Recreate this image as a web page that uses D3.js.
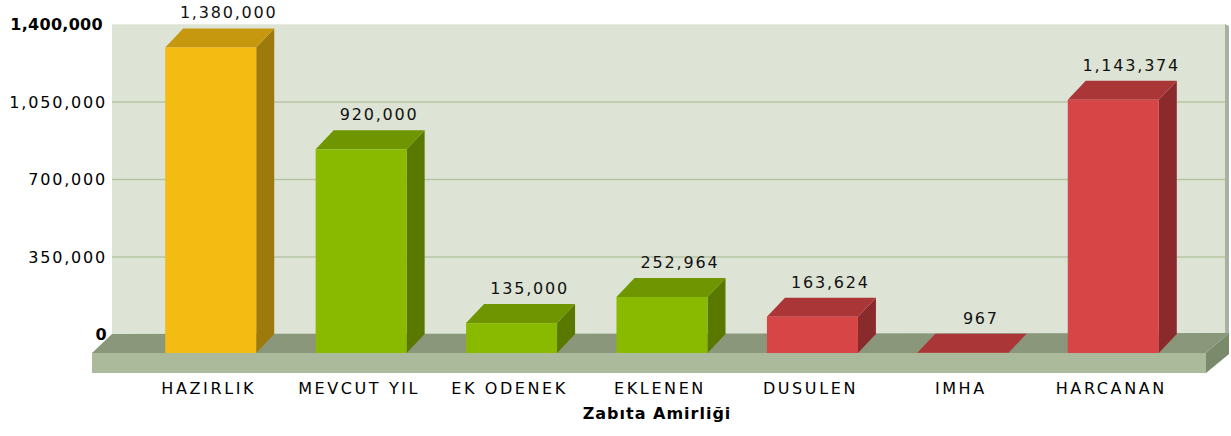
<!DOCTYPE html>
<html>
<head>
<meta charset="utf-8">
<script src="https://cdn.jsdelivr.net/npm/d3@7"></script>
<style>
  body { margin: 0; background: #fff; }
  svg { display: block; }
  text { font-family: "DejaVu Sans", Verdana, sans-serif; }
</style>
</head>
<body>
<svg id="chart" width="1231" height="436"></svg>
<script>
const categories = ['HAZIRLIK', 'MEVCUT YIL', 'EK ODENEK', 'EKLENEN', 'DUSULEN', 'IMHA', 'HARCANAN'];
const values = [1380000, 920000, 135000, 252964, 163624, 967, 1143374];
const barGroup = ['yellow', 'green', 'green', 'green', 'red', 'red', 'red'];
const yTicks = [0, 350000, 700000, 1050000, 1400000];
const xTitle = 'Zabıta Amirliği';

const palette = {
  yellow: {front: '#f4bb12', top: '#c69810', side: '#9d7a0b'},
  green: {front: '#8aba00', top: '#6f9500', side: '#587800'},
  red: {front: '#d84547', top: '#ab3638', side: '#8a2a2c'}
};

const svg = d3.select('#chart');
const wall = {x0: 112, x1: 1225};
const depth = {dx: 18, dy: 19};     // bar depth offset
const floorDepth = {dx: 20, dy: 19};

const y = d3.scaleLinear().domain([0, 1400000]).range([334, 24]);
const x = d3.scaleBand().domain(categories)
  .range([90, 1234]).paddingInner(0.395).paddingOuter(0.5);

const fmt = d3.format(',');
const isEnd = d => d === 0 || d === 1400000;

// back wall
svg.append('rect')
  .attr('x', wall.x0).attr('y', y(1400000))
  .attr('width', wall.x1 - wall.x0).attr('height', y(0) - y(1400000))
  .attr('fill', '#dde3d5');
// thin right side of the wall
svg.append('polygon')
  .attr('points', [[wall.x1, y(1400000)], [wall.x1 + 4, y(1400000) + 2], [wall.x1 + 4, y(0)], [wall.x1, y(0)]].join(' '))
  .attr('fill', '#a9b19f');

// gridlines
svg.append('g').selectAll('line')
  .data(yTicks.filter(d => !isEnd(d)))
  .join('line')
  .attr('x1', wall.x0).attr('x2', wall.x1)
  .attr('y1', d => y(d) + 0.5).attr('y2', d => y(d) + 0.5)
  .attr('stroke', '#b6c6a4').attr('stroke-width', 1.5);
svg.append('line')
  .attr('x1', wall.x0).attr('x2', wall.x1)
  .attr('y1', y(1400000) + 0.5).attr('y2', y(1400000) + 0.5)
  .attr('stroke', '#e6eadf');

// floor
const fx0 = wall.x0 - floorDepth.dx, fx1 = wall.x1 - 19, fy = y(0) + floorDepth.dy;
svg.append('polygon') // top
  .attr('points', [[fx0, fy], [fx1, fy], [fx1 + 23, y(0) - 1], [wall.x0, y(0)]].join(' '))
  .attr('fill', '#8a977a');
svg.append('rect') // front
  .attr('x', fx0).attr('y', fy).attr('width', fx1 - fx0).attr('height', 20)
  .attr('fill', '#acba9c');
svg.append('polygon') // right side
  .attr('points', [[fx1, fy], [fx1 + 23, y(0) - 1], [fx1 + 23, y(0) + 20], [fx1, fy + 20]].join(' '))
  .attr('fill', '#7b8a6b');

// y axis labels
svg.append('g').selectAll('text')
  .data(yTicks)
  .join('text')
  .attr('x', d => d === 1400000 ? 103 : 107)
  .attr('y', d => y(d) + 6)
  .attr('text-anchor', 'end')
  .attr('font-size', 16)
  .attr('font-weight', d => isEnd(d) ? 'bold' : 'normal')
  .attr('letter-spacing', d => isEnd(d) ? 0.3 : 1.8)
  .attr('fill', '#000')
  .text(d => fmt(d));

// bars
const bars = svg.append('g').selectAll('g')
  .data(categories.map((c, i) => ({c, v: values[i], g: barGroup[i]})))
  .join('g');

bars.each(function(d) {
  const g = d3.select(this);
  const col = palette[d.g];
  const l = x(d.c), r = l + x.bandwidth();
  const bot = y(0) + depth.dy;
  const top = y(d.v) + depth.dy;
  // side
  g.append('polygon')
    .attr('points', [[r, top], [r + depth.dx, top - depth.dy], [r + depth.dx, bot - depth.dy], [r, bot]].join(' '))
    .attr('fill', col.side);
  // top
  g.append('polygon')
    .attr('points', [[l, top], [r, top], [r + depth.dx, top - depth.dy], [l + depth.dx, top - depth.dy]].join(' '))
    .attr('fill', col.top);
  // front
  g.append('rect')
    .attr('x', l).attr('y', top).attr('width', x.bandwidth()).attr('height', bot - top)
    .attr('fill', col.front);
  // value label
  g.append('text')
    .attr('x', l + x.bandwidth() / 2 + depth.dx)
    .attr('y', y(d.v) - 10)
    .attr('text-anchor', 'middle')
    .attr('font-size', 16)
    .attr('letter-spacing', 1.8)
    .attr('fill', '#111')
    .text(fmt(d.v));
});

// category labels
svg.append('g').selectAll('text')
  .data(categories)
  .join('text')
  .attr('x', d => x(d) + x.bandwidth() / 2 - 2)
  .attr('y', 394)
  .attr('text-anchor', 'middle')
  .attr('font-size', 16)
  .attr('letter-spacing', 2.6)
  .attr('fill', '#000')
  .text(d => d);

// x axis title
svg.append('text')
  .attr('x', 657).attr('y', 419)
  .attr('text-anchor', 'middle')
  .attr('font-size', 16)
  .attr('font-weight', 'bold')
  .attr('letter-spacing', 1)
  .attr('fill', '#000')
  .text(xTitle);
</script>
</body>
</html>
